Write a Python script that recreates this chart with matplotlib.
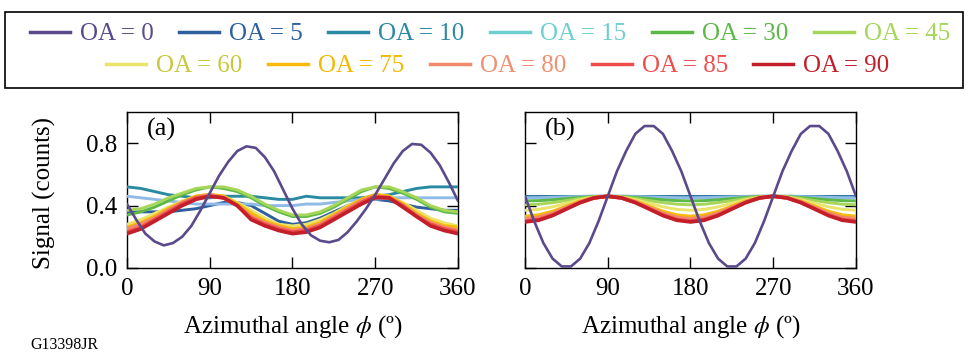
import matplotlib
matplotlib.use("Agg")
import matplotlib.pyplot as plt
from matplotlib.lines import Line2D
from matplotlib.patches import Rectangle

plt.rcParams['font.family'] = ['Liberation Serif', 'DejaVu Serif']
plt.rcParams['mathtext.fontset'] = 'stix'

# ---------------- data ----------------
labels = ["OA = 0", "OA = 5", "OA = 10", "OA = 15", "OA = 30", "OA = 45",
          "OA = 60", "OA = 75", "OA = 80", "OA = 85", "OA = 90"]
line_colors = ["#5b4a8b", "#2f5f9c", "#2a8aa2", "#8fbbe6", "#5cb847", "#a5d65a",
               "#e8e46c", "#f7b90a", "#f08a6a", "#f04c4c", "#c21f2b"]
legend_colors = ["#5b4a8b", "#2f5f9c", "#2a8aa2", "#6fcfd0", "#5cb847", "#a5d65a",
                 "#e8e46c", "#f7b90a", "#f08a6a", "#f04c4c", "#c21f2b"]
text_colors = ["#5b4a8b", "#2f5f9c", "#2a8aa2", "#6fcfd0", "#5cb847", "#a5d65a",
               "#c8c83a", "#f5b800", "#f09070", "#f04c4c", "#c21f2b"]

phi_fine = [0, 10, 20, 30, 40, 50, 60, 70, 80, 90, 100, 110, 120, 130, 140, 150, 160, 170, 180,
            190, 200, 210, 220, 230, 240, 250, 260, 270, 280, 290, 300, 310, 320, 330, 340, 350, 360]
phi = [0, 15, 30, 45, 60, 75, 90, 105, 120, 135, 150, 165, 180,
       195, 210, 225, 240, 255, 270, 285, 300, 315, 330, 345, 360]

# panel (a): measured
a_oa0 = [0.41, 0.31, 0.22, 0.17, 0.145, 0.16, 0.20, 0.27, 0.37, 0.48, 0.59, 0.68, 0.75, 0.78, 0.77,
         0.71, 0.62, 0.50, 0.38, 0.28, 0.21, 0.175, 0.165, 0.18, 0.23, 0.30, 0.38, 0.47, 0.57,
         0.67, 0.75, 0.795, 0.79, 0.74, 0.66, 0.55, 0.43]
a_oa5 = [0.36, 0.36, 0.36, 0.36, 0.37, 0.38, 0.40, 0.42, 0.42, 0.40, 0.35, 0.30, 0.28,
         0.29, 0.32, 0.36, 0.40, 0.43, 0.44, 0.43, 0.41, 0.39, 0.38, 0.37, 0.37]
a_oa10 = [0.52, 0.51, 0.49, 0.47, 0.46, 0.45, 0.45, 0.46, 0.46, 0.46, 0.45, 0.44, 0.44,
          0.46, 0.45, 0.45, 0.45, 0.45, 0.46, 0.47, 0.49, 0.51, 0.52, 0.52, 0.52]
a_oa15 = [0.46, 0.45, 0.44, 0.43, 0.42, 0.41, 0.41, 0.41, 0.41, 0.41, 0.40, 0.40, 0.40,
          0.41, 0.41, 0.42, 0.43, 0.44, 0.44, 0.45, 0.45, 0.45, 0.45, 0.45, 0.45]
a_oa30 = [0.34, 0.36, 0.39, 0.43, 0.47, 0.50, 0.52, 0.51, 0.49, 0.45, 0.40, 0.36, 0.33,
          0.33, 0.35, 0.39, 0.44, 0.49, 0.52, 0.51, 0.48, 0.44, 0.39, 0.36, 0.35]
a_oa45 = [0.37, 0.38, 0.41, 0.45, 0.48, 0.51, 0.52, 0.52, 0.50, 0.46, 0.41, 0.37, 0.34,
          0.34, 0.36, 0.40, 0.45, 0.50, 0.52, 0.52, 0.49, 0.45, 0.40, 0.37, 0.36]
a_oa60 = [0.28, 0.31, 0.35, 0.39, 0.43, 0.46, 0.47, 0.46, 0.42, 0.37, 0.32, 0.28, 0.27,
          0.28, 0.31, 0.35, 0.40, 0.44, 0.47, 0.46, 0.42, 0.37, 0.32, 0.29, 0.27]
a_oa75 = [0.26, 0.29, 0.33, 0.38, 0.42, 0.46, 0.47, 0.46, 0.41, 0.35, 0.30, 0.27, 0.25,
          0.26, 0.29, 0.34, 0.39, 0.44, 0.47, 0.46, 0.41, 0.35, 0.30, 0.27, 0.26]
a_oa80 = [0.25, 0.28, 0.32, 0.37, 0.42, 0.45, 0.47, 0.45, 0.40, 0.33, 0.29, 0.26, 0.24,
          0.25, 0.28, 0.33, 0.38, 0.43, 0.46, 0.45, 0.40, 0.34, 0.29, 0.26, 0.24]
a_oa85 = [0.23, 0.26, 0.31, 0.36, 0.41, 0.45, 0.46, 0.45, 0.40, 0.32, 0.28, 0.25, 0.23,
          0.24, 0.27, 0.32, 0.37, 0.42, 0.46, 0.45, 0.40, 0.33, 0.28, 0.25, 0.23]
a_oa90 = [0.22, 0.25, 0.30, 0.35, 0.40, 0.44, 0.46, 0.45, 0.40, 0.31, 0.27, 0.24, 0.22,
          0.23, 0.26, 0.31, 0.36, 0.41, 0.45, 0.45, 0.39, 0.33, 0.27, 0.24, 0.22]

# panel (b): modelled
b_oa0 = [0.46, 0.30, 0.16, 0.06, 0.01, 0.01, 0.06, 0.16, 0.30, 0.46, 0.62, 0.75, 0.86, 0.91, 0.91,
         0.86, 0.75, 0.62, 0.46, 0.30, 0.16, 0.06, 0.01, 0.01, 0.06, 0.16, 0.30, 0.46, 0.62,
         0.75, 0.86, 0.91, 0.91, 0.86, 0.75, 0.62, 0.46]
b_oa5 = [0.460, 0.460, 0.460, 0.460, 0.460, 0.460, 0.460, 0.460, 0.460, 0.460, 0.460, 0.460, 0.460,
         0.460, 0.460, 0.460, 0.460, 0.460, 0.460, 0.460, 0.460, 0.460, 0.460, 0.460, 0.460]
b_oa10 = [0.455, 0.455, 0.456, 0.458, 0.459, 0.460, 0.460, 0.460, 0.459, 0.458, 0.456, 0.455, 0.455,
          0.455, 0.456, 0.458, 0.459, 0.460, 0.460, 0.460, 0.459, 0.458, 0.456, 0.455, 0.455]
b_oa15 = [0.450, 0.451, 0.453, 0.455, 0.458, 0.459, 0.460, 0.459, 0.458, 0.455, 0.453, 0.451, 0.450,
          0.451, 0.453, 0.455, 0.458, 0.459, 0.460, 0.459, 0.458, 0.455, 0.453, 0.451, 0.450]
b_oa30 = [0.430, 0.432, 0.437, 0.445, 0.452, 0.458, 0.460, 0.458, 0.452, 0.445, 0.437, 0.432, 0.430,
          0.432, 0.437, 0.445, 0.452, 0.458, 0.460, 0.458, 0.452, 0.445, 0.437, 0.432, 0.430]
b_oa45 = [0.405, 0.409, 0.419, 0.432, 0.446, 0.456, 0.460, 0.456, 0.446, 0.432, 0.419, 0.409, 0.405,
          0.409, 0.419, 0.432, 0.446, 0.456, 0.460, 0.456, 0.446, 0.432, 0.419, 0.409, 0.405]
b_oa60 = [0.370, 0.376, 0.392, 0.415, 0.438, 0.454, 0.460, 0.454, 0.438, 0.415, 0.392, 0.376, 0.370,
          0.376, 0.392, 0.415, 0.438, 0.454, 0.460, 0.454, 0.438, 0.415, 0.392, 0.376, 0.370]
b_oa75 = [0.330, 0.339, 0.362, 0.395, 0.428, 0.451, 0.460, 0.451, 0.428, 0.395, 0.362, 0.339, 0.330,
          0.339, 0.362, 0.395, 0.428, 0.451, 0.460, 0.451, 0.428, 0.395, 0.362, 0.339, 0.330]
b_oa80 = [0.315, 0.325, 0.351, 0.388, 0.424, 0.450, 0.460, 0.450, 0.424, 0.388, 0.351, 0.325, 0.315,
          0.325, 0.351, 0.388, 0.424, 0.450, 0.460, 0.450, 0.424, 0.388, 0.351, 0.325, 0.315]
b_oa85 = [0.300, 0.311, 0.340, 0.380, 0.420, 0.449, 0.460, 0.449, 0.420, 0.380, 0.340, 0.311, 0.300,
          0.311, 0.340, 0.380, 0.420, 0.449, 0.460, 0.449, 0.420, 0.380, 0.340, 0.311, 0.300]
b_oa90 = [0.295, 0.306, 0.336, 0.378, 0.419, 0.449, 0.460, 0.449, 0.419, 0.378, 0.336, 0.306, 0.295,
          0.306, 0.336, 0.378, 0.419, 0.449, 0.460, 0.449, 0.419, 0.378, 0.336, 0.306, 0.295]

panel_a = [a_oa0, a_oa5, a_oa10, a_oa15, a_oa30, a_oa45, a_oa60, a_oa75, a_oa80, a_oa85, a_oa90]
panel_b = [b_oa0, b_oa5, b_oa10, b_oa15, b_oa30, b_oa45, b_oa60, b_oa75, b_oa80, b_oa85, b_oa90]

xticks = [0, 90, 180, 270, 360]
yticks = [0.0, 0.4, 0.8]
ytick_labels = ["0.0", "0.4", "0.8"]

# ---------------- figure ----------------
fig = plt.figure(figsize=(9.7, 3.55), dpi=100)
ax_a = fig.add_axes([127 / 970, 1 - 268 / 355, 331 / 970, 156 / 355])
ax_b = fig.add_axes([525 / 970, 1 - 268 / 355, 331 / 970, 156 / 355])

fs_tick = 18
for ax, data, tag in [(ax_a, panel_a, "(a)"), (ax_b, panel_b, "(b)")]:
    for i, (ys, c) in enumerate(zip(data, line_colors)):
        xs = phi_fine if len(ys) == len(phi_fine) else phi
        lw = 1.9 if i == 0 else (2.6 if i >= 7 else 2.1)
        ax.plot(xs, ys, color=c, lw=lw, solid_capstyle='round', zorder=2 + (i if i > 0 else 20))
    ax.set_xlim(0, 360)
    ax.set_ylim(0, 1.0)
    ax.set_xticks(xticks)
    ax.set_yticks(yticks)
    ax.tick_params(direction='in', length=8, width=1, top=True, right=True,
                   labelsize=fs_tick, pad=7)
    for s in ax.spines.values():
        s.set_linewidth(1.0)
    ax.set_xlabel(r"Azimuthal angle $\phi$ (º)", fontsize=18)
    ax.xaxis.set_label_coords(0.5, -0.29)
    ax.text(0.06, 0.96, tag, transform=ax.transAxes, fontsize=19, va='top', ha='left')

ax_a.set_yticklabels(ytick_labels)
ax_b.set_yticklabels([])
ax_a.set_ylabel("Signal (counts)", fontsize=18)
ax_a.yaxis.set_label_coords(-0.215, 0.48)

# ---------------- legend ----------------
handles = [Line2D([], [], color=c, lw=2.5) for c in legend_colors]
leg_kw = dict(frameon=False, fontsize=18, handlelength=1.6, handletextpad=0.4,
              columnspacing=1.02, borderaxespad=0, borderpad=0)
leg1 = fig.legend(handles[:6], labels[:6], loc='center', bbox_to_anchor=(490 / 970, 1 - 34 / 355),
                  ncol=6, **leg_kw)
leg2 = fig.legend(handles[6:], labels[6:], loc='center', bbox_to_anchor=(498 / 970, 1 - 66 / 355),
                  ncol=5, **leg_kw)
for t, c in zip(leg1.get_texts() + leg2.get_texts(), text_colors):
    t.set_color(c)
fig.add_artist(Rectangle((5 / 970, 1 - 88 / 355), 958 / 970, 76 / 355,
                         transform=fig.transFigure, fill=False, lw=1.2, ec='black'))

fig.text(30 / 970, 1 - 345 / 355, "G13398JR", fontsize=11.5, va='center', ha='left')

fig.savefig("out.png", dpi=100)
